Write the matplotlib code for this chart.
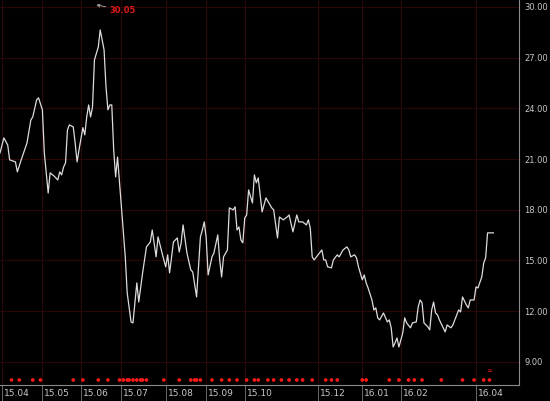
import matplotlib
matplotlib.use("Agg")
import matplotlib.pyplot as plt
import matplotlib.transforms as mtransforms

# trading-day index (0 = first trading day of 2015-04) and closing price
days = [-1, 1, 3, 4, 7, 8, 10, 13, 15, 16, 18, 19, 21, 22, 24, 25, 27, 29, 30, 31,
        32, 33, 34, 35, 37, 38, 39, 40, 42, 43, 44, 45, 46, 47, 48, 50, 51, 53, 54, 55,
        56, 57, 58, 59, 60, 62, 64, 65, 67, 68, 70, 71, 73, 75, 77, 78, 80, 81, 84, 85,
        86, 87, 89, 91, 92, 93, 94, 96, 98, 99, 101, 102, 103, 104, 105, 106, 107, 109, 110, 112,
        113, 114, 115, 117, 118, 120, 121, 122, 123, 124, 125, 126, 127, 128, 130, 131, 132, 133, 135, 137,
        140, 141, 143, 144, 146, 148, 149, 151, 153, 154, 156, 158, 159, 160, 161, 162, 164, 166, 167, 168,
        169, 171, 172, 174, 175, 177, 179, 180, 181, 183, 184, 185, 187, 188, 189, 190, 192, 193, 194, 195,
        196, 198, 200, 201, 202, 203, 204, 205, 206, 208, 209, 210, 212, 213, 215, 216, 217, 218, 219, 221,
        222, 223, 224, 225, 226, 227, 229, 230, 231, 233, 234, 236, 237, 238, 239, 241, 242, 243, 245, 246,
        247, 249, 250, 251, 252, 255]
close = [21.36, 22.25, 21.83, 20.95, 20.83, 20.24, 20.95, 21.95, 23.31, 23.49, 24.50, 24.62, 23.91, 21.36, 18.99, 20.18, 20.00, 19.76, 20.24, 20.06,
         20.53, 20.77, 22.72, 23.02, 22.90, 21.95, 20.83, 21.54, 22.86, 22.43, 23.49, 24.20, 23.49, 24.08, 26.86, 27.63, 28.64, 27.46, 25.27, 23.91,
         24.20, 24.20, 21.54, 19.94, 21.12, 18.17, 15.21, 13.08, 11.36, 11.30, 13.67, 12.54, 14.26, 15.80, 16.09, 16.80, 15.21, 16.39, 15.03, 14.62,
         15.33, 14.26, 16.09, 16.33, 15.50, 16.04, 17.10, 15.44, 14.44, 14.32, 12.84, 14.62, 16.39, 16.80, 17.28, 16.33, 14.14, 15.21, 15.44, 16.51,
         15.03, 14.02, 15.21, 15.62, 18.11, 17.99, 18.17, 16.80, 16.98, 16.21, 16.04, 17.51, 17.69, 19.17, 18.40, 20.06, 19.59, 19.88, 17.87, 18.70,
         18.11, 17.99, 16.33, 17.57, 17.40, 17.57, 17.69, 16.69, 17.69, 17.28, 17.28, 17.10, 17.40, 16.92, 15.21, 15.03, 15.33, 15.62, 15.03, 15.03,
         14.62, 14.56, 15.03, 15.33, 15.21, 15.62, 15.80, 15.62, 15.21, 15.33, 15.15, 14.62, 13.85, 14.14, 13.67, 13.37, 12.66, 12.07, 12.19, 11.60,
         11.48, 11.89, 11.36, 11.48, 11.01, 9.88, 10.12, 10.41, 9.88, 10.71, 11.60, 11.30, 11.01, 11.30, 11.36, 12.25, 12.66, 12.49, 11.30, 11.07,
         10.89, 12.07, 12.54, 11.89, 11.78, 11.48, 11.01, 10.77, 11.18, 11.01, 11.18, 11.78, 12.07, 11.95, 12.84, 12.37, 12.19, 12.66, 12.66, 13.43,
         13.37, 14.02, 14.85, 15.15, 16.63, 16.63]

# event markers (trading-day index)
event_days = [5, 9, 16, 20, 37, 42, 50, 55, 61, 63, 65, 66, 68, 70, 72, 73, 75, 84, 92, 98,
              100, 101, 103, 109, 114, 118, 122, 127, 131, 133, 138, 141, 145, 149, 153, 156, 161, 168, 171, 174,
              187, 189, 201, 206, 211, 214, 218, 228, 239, 245, 250, 253]

month_pos = [0, 21, 41, 62, 85, 106, 126, 164, 187, 207, 246]
month_lbl = ["15.04", "15.05", "15.06", "15.07", "15.08", "15.09", "15.10",
             "15.12", "16.01", "16.02", "16.04"]
y_ticks = [9, 12, 15, 18, 21, 24, 27, 30]
peak_high = 30.05

fig = plt.figure(figsize=(5.5, 4.01), dpi=100, facecolor="black")
ax = fig.add_axes([0.0, 0.04, 0.9436, 0.96], facecolor="black")

grid_c = "#2a0808"
for v in y_ticks:
    ax.axhline(v, color=grid_c, lw=0.8, zorder=0)
for p in month_pos:
    ax.axvline(p, color=grid_c, lw=0.8, zorder=0)

ax.plot(days, close, color="#dcdcdc", lw=0.9, zorder=3)

trans = mtransforms.blended_transform_factory(ax.transData, ax.transAxes)
ax.scatter(event_days, [0.013] * len(event_days), transform=trans, s=7,
           color="#ff1a1a", edgecolors="none", zorder=4, clip_on=False)
ax.text(253, 0.028, "≈", transform=trans, color="#ff1a1a", fontsize=5,
        ha="center", va="bottom")

ax.annotate(f"{peak_high:.2f}", xy=(49, 30.12), xytext=(56, 29.8),
            color="#e01818", fontsize=6, fontweight="bold", ha="left", va="center",
            arrowprops=dict(arrowstyle="->", color="#b0b0b0", lw=0.6,
                            shrinkA=1, shrinkB=0, mutation_scale=5))

ax.set_xlim(-1, 268.3)
ax.set_ylim(7.63, 30.41)

for s in ["top", "left"]:
    ax.spines[s].set_visible(False)
ax.spines["right"].set_color("#8a8a8a")
ax.spines["bottom"].set_color("#8a8a8a")
ax.spines["right"].set_linewidth(0.8)
ax.spines["bottom"].set_linewidth(0.8)

ax.yaxis.tick_right()
ax.set_yticks(y_ticks)
ax.set_yticklabels([f"{v:.2f}" for v in y_ticks])
ax.tick_params(axis="y", length=0, pad=4, labelsize=6, labelcolor="#c8c8c8")

ax.set_xticks(month_pos)
ax.set_xticklabels(month_lbl)
ax.tick_params(axis="x", length=12, width=0.7, color="#6a6a6a", direction="out",
               pad=-9, labelsize=6.5, labelcolor="#c8c8c8")
for lab in ax.get_xticklabels():
    lab.set_horizontalalignment("left")
    lab.set_transform(lab.get_transform() + mtransforms.ScaledTranslation(2 / 100, 0, fig.dpi_scale_trans))

fig.savefig("out.png", dpi=100, facecolor="black")
